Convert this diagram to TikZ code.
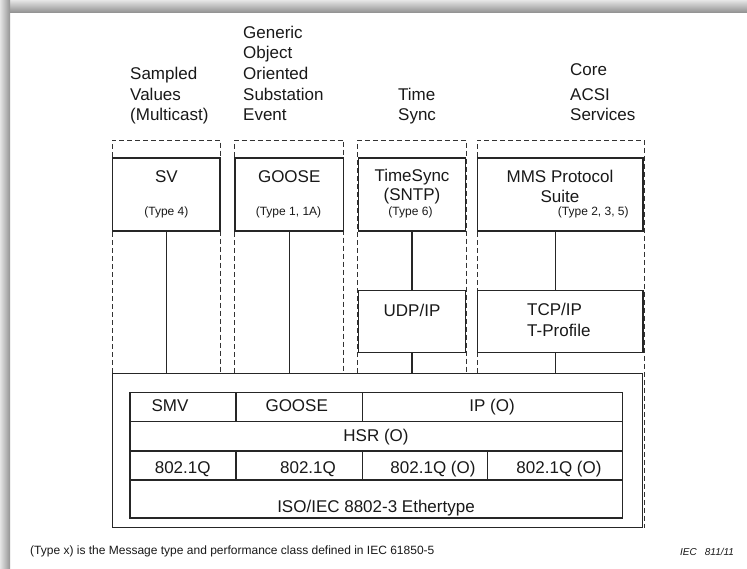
\documentclass[tikz,border=0pt]{standalone}
\usepackage{fontspec}
\setmainfont{Liberation Sans}
\usetikzlibrary{backgrounds}
\begin{document}
\begin{tikzpicture} [
        x=1pt, y=-1pt,
        every node/.style={inner sep=0pt, text=black!90, font=\fontsize{17}{20.7}\selectfont},
        box/.style={draw=black!85, rectangle, line width=1.2pt, minimum height=73pt},
        cell/.style={draw=black!85, rectangle, line width=1.2pt, minimum height=29pt},
        col/.style={draw=black!80, line width=1pt, dash pattern=on 5pt off 3pt},
        line/.style={draw=black!85, line width=1.2pt},
        head/.style={anchor=south west, align=left, text depth=0pt},
        txt/.style={anchor=base},
        small/.style={anchor=base, font=\fontsize{12}{14}\selectfont} ]
    \useasboundingbox (0,0) rectangle (747,568);

    \node[head] (sampled) at (130,121) {Sampled\\Values\\(Multicast)};
    \node[head] (generic) at (243,121) {Generic\\Object\\Oriented\\Substation\\Event};
    \node[head] (time) at (398,121) {Time\\Sync};
    \node[head] (core) at (570,121) {Core\\[4pt]ACSI\\Services};

    \node[box, minimum width=107.3pt] (sv) at (166.4,194.5) {};
    \node[box, minimum width=108.3pt] (goose) at (289.2,194.5) {};
    \node[box, minimum width=107.4pt] (tsync) at (412,194.5) {};
    \node[box, minimum width=165.3pt] (mms) at (560.4,194.5) {};
    \node[box, minimum width=107.4pt, minimum height=61.6pt] (udp) at (412,321.5) {};
    \node[box, minimum width=165.3pt, minimum height=61.6pt] (tcp) at (560.4,321.5) {};
    \node[box, minimum width=530pt, minimum height=154pt] (stack) at (377.7,450.4) {};

    \begin{pgfonlayer}{background}
    \fill[white] (0,0) rectangle (747,568);
    \shade[top color=black!10, bottom color=black!42] (0,0) rectangle (747,12);
    \shade[left color=black!10, right color=black!42] (0,0) rectangle (10,568);
    \draw[col] (sv.west |- stack.north) -- (sv.west |- 0,140) -| (sv.east |- stack.north);
    \draw[col] (goose.west |- stack.north) -- (goose.west |- 0,140) -| (goose.east |- stack.north);
    \draw[col] (tsync.west |- stack.north) -- (tsync.west |- 0,140) -| (tsync.east |- stack.north);
    \draw[col] (mms.west |- stack.north) -- (mms.west |- 0,140) -| ([xshift=1.2pt]stack.south east);
    \end{pgfonlayer}

    \node[txt] (svname) at (166.4,182.6) {SV};
    \node[small] (svtype) at (166.4,215.3) {(Type 4)};
    \node[txt] (goosename) at (289.2,182.6) {GOOSE};
    \node[small] (goosetype) at (288.5,215.3) {(Type 1, 1A)};
    \node[txt, align=center] (tsyncname) at (412,200.8) {TimeSync\\[-1.5pt](SNTP)};
    \node[small] (tsynctype) at (410.5,215.3) {(Type 6)};
    \node[txt, align=center] (mmsname) at (560,202.6) {MMS Protocol\\[-0.5pt]Suite};
    \node[small] (mmstype) at (593.3,215.3) {(Type 2, 3, 5)};
    \node[txt] (udpname) at (412,316) {UDP/IP};
    \node[txt, anchor=base west, align=left] (tcpname) at (527,336) {TCP/IP\\[-0.5pt]T-Profile};

    \draw[line] (sv.south) -- (sv.south |- stack.north);
    \draw[line] (goose.south) -- (goose.south |- stack.north);
    \draw[line] (tsync.south) -- (udp.north);
    \draw[line] (udp.south) -- (udp.south |- stack.north);
    \draw[line] ([xshift=-5pt]mms.south) -- ([xshift=-5pt]tcp.north);
    \draw[line] ([xshift=-5pt]tcp.south) -- ([xshift=-5pt]tcp.south |- stack.north);

    \node[cell, minimum width=106pt] (smv) at (183,407.2) {};
    \node[cell, minimum width=126.3pt] (goosecell) at (299.15,407.2) {};
    \node[cell, minimum width=260.2pt] (ip) at (492.4,407.2) {};
    \node[cell, minimum width=492.5pt, minimum height=29.3pt] (hsr) at (376.25,436.35) {};
    \node[cell, minimum width=106pt] (qa) at (183,465.5) {};
    \node[cell, minimum width=126.3pt] (qb) at (299.15,465.5) {};
    \node[cell, minimum width=125pt] (qc) at (424.8,465.5) {};
    \node[cell, minimum width=135.2pt] (qd) at (554.9,465.5) {};
    \node[cell, minimum width=492.5pt, minimum height=38pt] (eth) at (376.25,499) {};

    \node[txt] (smvtext) at (170,411) {SMV};
    \node[txt] (goosetext) at (296.7,411) {GOOSE};
    \node[txt] (iptext) at (492,411) {IP (O)};
    \node[txt] (hsrtext) at (376,441) {HSR (O)};
    \node[txt] (qatext) at (182.7,473.5) {802.1Q};
    \node[txt] (qbtext) at (308,473.5) {802.1Q};
    \node[txt] (qctext) at (433,473.5) {802.1Q (O)};
    \node[txt] (qdtext) at (559,473.5) {802.1Q (O)};
    \node[txt] (ethtext) at (376,512) {ISO/IEC 8802-3 Ethertype};

    \node[small, anchor=base west] (note) at (30,554) {(Type x) is the Message type and performance class defined in IEC 61850-5};
    \node[anchor=base west, font=\fontsize{10}{12}\selectfont\itshape] (iec) at (680,555) {IEC\hspace{8pt}811/11};
    \end{tikzpicture}
\end{document}
